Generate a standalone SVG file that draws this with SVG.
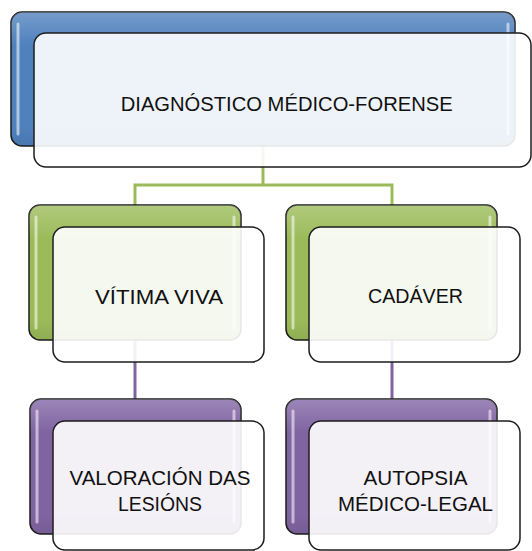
<svg xmlns="http://www.w3.org/2000/svg" width="532" height="551" viewBox="0 0 532 551">
<defs>
<linearGradient id="sheen" x1="0" y1="0" x2="0" y2="1">
<stop offset="0" stop-color="#ffffff" stop-opacity="0.22"/>
<stop offset="0.25" stop-color="#ffffff" stop-opacity="0"/>
<stop offset="0.85" stop-color="#000000" stop-opacity="0"/>
<stop offset="1" stop-color="#000000" stop-opacity="0.08"/>
</linearGradient>
</defs>
<style>
.back{stroke:#1c1c1c;stroke-width:1.5}
.blue{fill:#4f81bd}
.green{fill:#9bbb59}
.purple{fill:#8064a2}
.sheen{fill:url(#sheen);stroke:none}
.hl{stroke:#ffffff;stroke-opacity:0.55;stroke-width:3;stroke-linecap:round;fill:none}
.front{fill:#ffffff;fill-opacity:0.9;stroke:#1c1c1c;stroke-width:1.5}
.lbl{font-family:"Liberation Sans",Arial,sans-serif;font-size:21px;fill:#111111;text-anchor:middle}
.conn{fill:none;stroke-width:3}
</style>
<rect width="532" height="551" fill="#ffffff"/>
<g id="connectors">
<path class="conn" stroke="#9bbb59" d="M263 146 V185 M135 205 V185 H392 V205"/>
<path class="conn" stroke="#8064a2" d="M135 340 V399 M392 340 V399"/>
</g>
<g id="node-root">
<rect class="back blue" x="11" y="12" width="504" height="134" rx="11"/>
<rect class="sheen" x="11" y="12" width="504" height="134" rx="11"/>
<path class="hl" d="M18 24 V134 M508 24 V134"/>
<rect class="front" x="34" y="33" width="497" height="134" rx="12"/>
<text class="lbl" x="286.7" y="111" textLength="332" lengthAdjust="spacingAndGlyphs">DIAGNÓSTICO MÉDICO-FORENSE</text>
</g>
<g id="node-vitima">
<rect class="back green" x="29" y="205" width="212" height="135" rx="11"/>
<rect class="sheen" x="29" y="205" width="212" height="135" rx="11"/>
<path class="hl" d="M36 217 V328 M234 217 V328"/>
<rect class="front" x="53" y="227" width="211" height="135" rx="12"/>
<text class="lbl" x="159" y="304" textLength="128" lengthAdjust="spacingAndGlyphs">VÍTIMA VIVA</text>
</g>
<g id="node-cadaver">
<rect class="back green" x="286" y="205" width="211" height="135" rx="11"/>
<rect class="sheen" x="286" y="205" width="211" height="135" rx="11"/>
<path class="hl" d="M293 217 V328 M490 217 V328"/>
<rect class="front" x="309" y="227" width="211" height="135" rx="12"/>
<text class="lbl" x="415.5" y="303" textLength="95" lengthAdjust="spacingAndGlyphs">CADÁVER</text>
</g>
<g id="node-valoracion">
<rect class="back purple" x="30" y="399" width="211" height="135" rx="11"/>
<rect class="sheen" x="30" y="399" width="211" height="135" rx="11"/>
<path class="hl" d="M37 411 V522 M234 411 V522"/>
<rect class="front" x="53" y="421" width="211" height="129" rx="12"/>
<text class="lbl" x="160" y="485" textLength="181" lengthAdjust="spacingAndGlyphs">VALORACIÓN DAS</text>
<text class="lbl" x="160" y="511" textLength="84" lengthAdjust="spacingAndGlyphs">LESIÓNS</text>
</g>
<g id="node-autopsia">
<rect class="back purple" x="286" y="399" width="211" height="135" rx="11"/>
<rect class="sheen" x="286" y="399" width="211" height="135" rx="11"/>
<path class="hl" d="M293 411 V522 M490 411 V522"/>
<rect class="front" x="309" y="421" width="211" height="129" rx="12"/>
<text class="lbl" x="415.5" y="485" textLength="104" lengthAdjust="spacingAndGlyphs">AUTOPSIA</text>
<text class="lbl" x="415.5" y="511" textLength="155" lengthAdjust="spacingAndGlyphs">MÉDICO-LEGAL</text>
</g>
</svg>
